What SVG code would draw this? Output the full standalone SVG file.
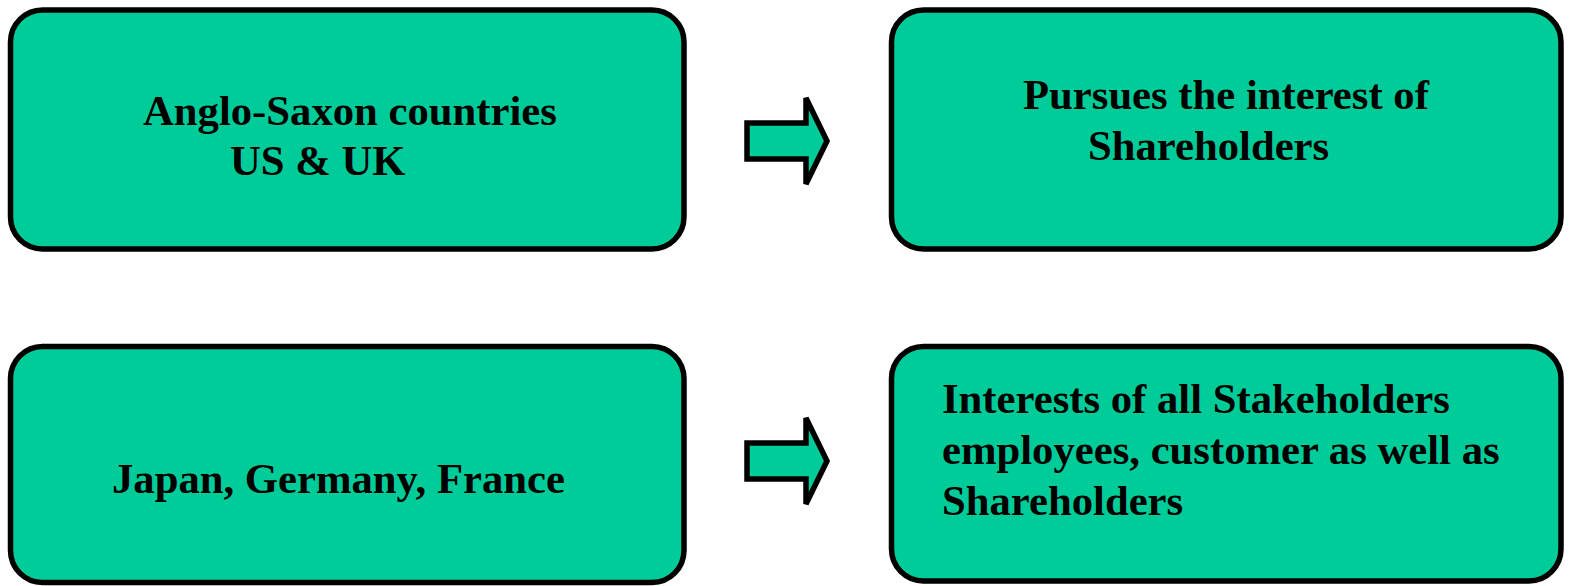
<svg xmlns="http://www.w3.org/2000/svg" width="1569" height="586" viewBox="0 0 1569 586">
  <style>
    .box { fill: #00CC99; stroke: #000; stroke-width: 5.5; }
    .arrow { fill: #00CC99; stroke: #000; stroke-width: 5.5; stroke-linejoin: miter; }
    .label { font-family: "Liberation Serif", "Times New Roman", serif; font-weight: bold; font-size: 42.7px; fill: #000; }
  </style>
  <rect width="1569" height="586" fill="#fff"/>

  <g id="anglo-saxon">
    <rect class="box" x="10.5" y="10" width="673.5" height="239" rx="32" ry="32"/>
    <text class="label" x="143" y="125">Anglo-Saxon countries</text>
    <text class="label" x="230" y="175">US &amp; UK</text>
  </g>

  <g id="shareholders">
    <rect class="box" x="891.5" y="10" width="669.5" height="239" rx="32" ry="32"/>
    <text class="label" x="1023" y="109">Pursues the interest of</text>
    <text class="label" x="1088" y="160">Shareholders</text>
  </g>

  <g id="japan-germany-france">
    <rect class="box" x="10.5" y="346.5" width="673.5" height="236" rx="32" ry="32"/>
    <text class="label" x="112" y="493">Japan, Germany, France</text>
  </g>

  <g id="stakeholders">
    <rect class="box" x="891.5" y="346.5" width="669.5" height="234.5" rx="32" ry="32"/>
    <text class="label" x="942" y="413">Interests of all Stakeholders</text>
    <text class="label" x="942" y="464">employees, customer as well as</text>
    <text class="label" x="942" y="515">Shareholders</text>
  </g>

  <g id="connectors">
    <polygon class="arrow" points="747,123 806,123 806,98 827,141 806,184 806,159 747,159"/>
    <polygon class="arrow" points="747,443 806,443 806,418 827,461 806,504 806,479 747,479"/>
  </g>
</svg>
